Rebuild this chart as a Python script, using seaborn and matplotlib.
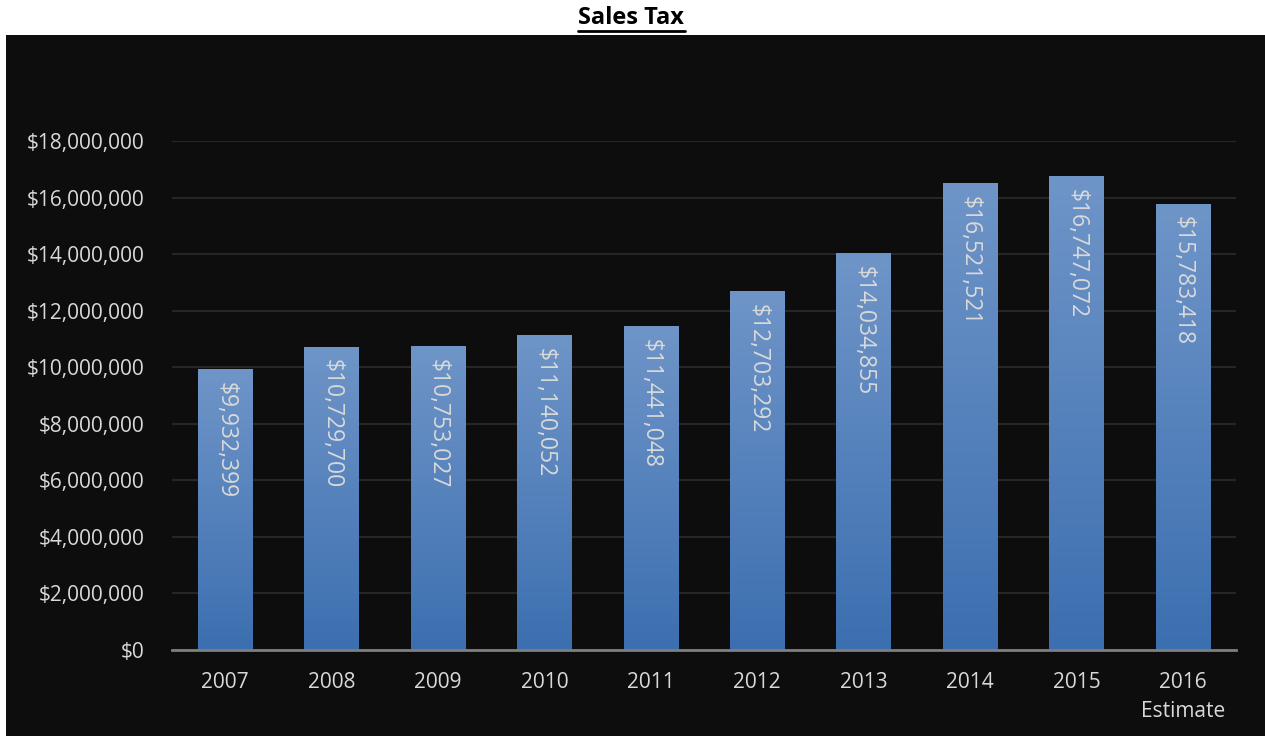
import numpy as np
import pandas as pd
import matplotlib
matplotlib.use("Agg")
import matplotlib.pyplot as plt
import seaborn as sns
from matplotlib.patches import Rectangle
from matplotlib.ticker import FuncFormatter, MultipleLocator

# Annual sales tax revenue
years = ["2007", "2008", "2009", "2010", "2011", "2012", "2013", "2014", "2015", "2016\nEstimate"]
revenue = [9932399, 10729700, 10753027, 11140052, 11441048,
           12703292, 14034855, 16521521, 16747072, 15783418]

df = pd.DataFrame({"year": years, "revenue": revenue})

sns.set_theme(style="dark")
plt.rcParams["font.family"] = ["Open Sans", "DejaVu Sans"]

BG = "#0d0d0d"
TXT = "#d9d9d9"
GRID = "#262626"

fig = plt.figure(figsize=(12.65, 7.36), dpi=100)
fig.patch.set_facecolor("white")
# dark panel below the title
fig.patches.append(Rectangle((6 / 1265, 0), 1 - 6 / 1265, (736 - 35) / 736,
                             transform=fig.transFigure, facecolor=BG,
                             edgecolor="none", zorder=-5))

ax = fig.add_axes([172 / 1265, (736 - 650) / 736, (1236 - 172) / 1265, (650 - 141) / 736])
ax.set_facecolor(BG)
ax.patch.set_alpha(0)

sns.barplot(data=df, x="year", y="revenue", ax=ax, color="#4f81bd",
            width=0.51, saturation=1, zorder=2, linewidth=0, edgecolor="none")

ax.set_xlim(-0.5, len(years) - 0.5)
ax.set_ylim(0, 18_000_000)
ax.yaxis.set_major_locator(MultipleLocator(2_000_000))
ax.yaxis.set_major_formatter(FuncFormatter(lambda v, p: f"${v:,.0f}"))

# vertical blue gradient inside each bar
grad = np.linspace(0, 1, 256).reshape(-1, 1)
cmap = matplotlib.colors.LinearSegmentedColormap.from_list("bar", ["#3c6fb0", "#6f95c8"])
for bar in list(ax.patches):
    x0, y0 = bar.get_x(), bar.get_y()
    w, h = bar.get_width(), bar.get_height()
    bar.set_facecolor("none")
    bar.set_linewidth(0)
    im = ax.imshow(grad, extent=[x0, x0 + w, y0, y0 + h], origin="lower",
                   cmap=cmap, aspect="auto", zorder=2, interpolation="bicubic")
    im.set_clip_path(bar)
    ax.text(x0 + w / 2, y0 + h - 450_000, f"${bar.get_height():,.0f}",
            rotation=270, ha="center", va="top", color=TXT, fontsize=16.5,
            zorder=3)
ax.set_xlim(-0.5, len(years) - 0.5)
ax.set_ylim(0, 18_000_000)

ax.grid(axis="y", color=GRID, linewidth=1.5, zorder=1)
ax.grid(axis="x", visible=False)
ax.set_axisbelow(True)
for side in ["top", "right", "left"]:
    ax.spines[side].set_visible(False)
ax.spines["bottom"].set_color("#7f7f7f")
ax.spines["bottom"].set_linewidth(2)
ax.spines["bottom"].set_zorder(4)

ax.tick_params(axis="both", length=0, colors=TXT, labelsize=15)
ax.tick_params(axis="y", pad=20)
ax.tick_params(axis="x", pad=16)
ax.set_xlabel("")
ax.set_ylabel("")
for lbl in ax.get_xticklabels():
    lbl.set_linespacing(1.5)
    lbl.set_multialignment("center")
    lbl.set_verticalalignment("top")

fig.text(631 / 1265, 1 - 18 / 736, "Sales Tax", ha="center", va="center",
         fontsize=17, fontweight="bold", color="black")
# underline beneath the title
fig.add_artist(plt.Line2D([578 / 1265, 685 / 1265], [1 - 31 / 736, 1 - 31 / 736],
                          color="black", linewidth=2, transform=fig.transFigure))

fig.savefig("out.png", dpi=100, facecolor=fig.get_facecolor())
